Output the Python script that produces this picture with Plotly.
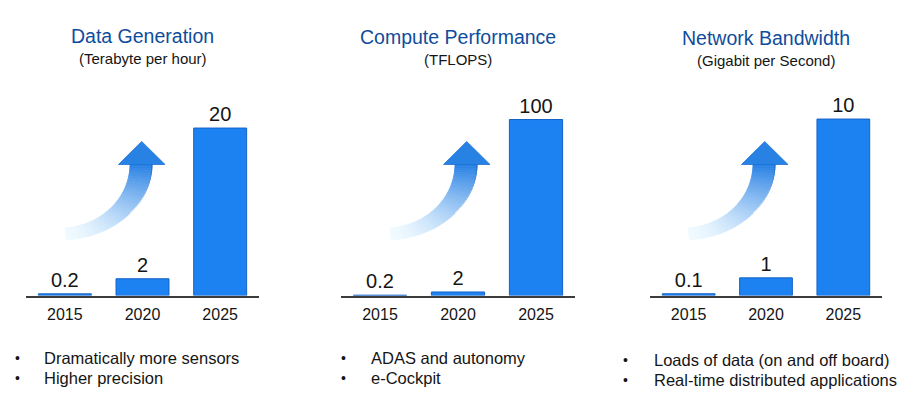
import math
import plotly.graph_objects as go

W, H = 901, 395

# ---------------- data ----------------
years = ["2015", "2020", "2025"]
data_generation = [0.2, 2, 20]        # Terabyte per hour
compute_performance = [0.2, 2, 100]   # TFLOPS
network_bandwidth = [0.1, 1, 10]      # Gigabit per second

titles = ["Data Generation", "Compute Performance", "Network Bandwidth"]
subtitles = ["(Terabyte per hour)", "(TFLOPS)", "(Gigabit per Second)"]
bullets = [
    ["Dramatically more sensors", "Higher precision"],
    ["ADAS and autonomy", "e-Cockpit"],
    ["Loads of data (on and off board)", "Real-time distributed applications"],
]
series = [data_generation, compute_performance, network_bandwidth]
y_tops = [23.35, 111.1, 11.08]

# ---------------- layout helpers (pixel -> paper) ----------------
def px(x):
    return x / W

def py(y):
    return 1 - y / H

axis_px = [(26, 259), (341, 575), (650, 882)]
arrow_dx = [0, 325, 623]
base_px, top_px = 295.5, 100
title_y = [(36, 58), (36.5, 59), (38, 60.5)]
bullet_x = [(17, 42), (343, 369), (625, 652)]
bullet_y = [(358, 378), (358, 378), (360, 380)]

BLUE = "#1c82f2"
EDGE = "#1462c6"
TITLE_BLUE = "#0f4d9c"
FONT = "Arial, Liberation Sans, sans-serif"

fig = go.Figure()
layout = dict(
    width=W, height=H,
    margin=dict(l=0, r=0, t=0, b=0),
    paper_bgcolor="white", plot_bgcolor="white",
    showlegend=False, bargap=0.318,
    font=dict(family=FONT, color="#151515"),
)

annotations = []
shapes = []

for i in range(3):
    suffix = "" if i == 0 else str(i + 1)
    xa, ya = "x" + suffix, "y" + suffix
    vals = series[i]
    fig.add_trace(go.Bar(
        x=years, y=vals, xaxis=xa, yaxis=ya,
        marker=dict(color=BLUE, line=dict(color=EDGE, width=1)),
        text=[f"{v:g}" for v in vals], textposition="outside",
        textfont=dict(size=20, color="#151515", family=FONT),
        cliponaxis=False, hoverinfo="skip",
    ))
    x0, x1 = axis_px[i]
    layout["xaxis" + suffix] = dict(
        domain=[px(x0), px(x1)], anchor=ya, type="category",
        showline=True, linecolor="#3c3c3c", linewidth=2,
        ticks="outside", ticklen=3, tickcolor="rgba(0,0,0,0)",
        tickfont=dict(size=16, color="#151515", family=FONT),
        showgrid=False, zeroline=False, fixedrange=True,
    )
    layout["yaxis" + suffix] = dict(
        domain=[py(base_px), py(top_px)], anchor=xa,
        range=[0, y_tops[i]], visible=False, fixedrange=True,
    )

    cx = (x0 + x1) / 2
    annotations.append(dict(
        x=px(cx), y=py(title_y[i][0]), xref="paper", yref="paper",
        text=titles[i], showarrow=False, xanchor="center", yanchor="middle",
        font=dict(size=19.5, color=TITLE_BLUE, family=FONT)))
    annotations.append(dict(
        x=px(cx), y=py(title_y[i][1]), xref="paper", yref="paper",
        text=subtitles[i], showarrow=False, xanchor="center", yanchor="middle",
        font=dict(size=15, color="#151515", family=FONT)))

    bx, tx = bullet_x[i]
    for j, line in enumerate(bullets[i]):
        yy = bullet_y[i][j]
        annotations.append(dict(
            x=px(bx), y=py(yy), xref="paper", yref="paper", text="•",
            showarrow=False, xanchor="center", yanchor="middle",
            font=dict(size=14, color="#151515", family=FONT)))
        annotations.append(dict(
            x=px(tx), y=py(yy), xref="paper", yref="paper", text=line,
            showarrow=False, xanchor="left", yanchor="middle",
            font=dict(size=16.5, color="#151515", family=FONT)))

    # ---------- decorative curved gradient arrow ----------
    dx = arrow_dx[i]
    cxp, cyp = 60 + dx, 164
    r_out = (92, 76)
    r_in = (70, 64)
    N = 48
    th_max = math.radians(86)
    top_c = (36, 126, 228)
    bot_c = (240, 250, 255)

    def pt(r, th):
        return (cxp + r[0] * math.cos(th), cyp + r[1] * math.sin(th))

    for k in range(N):
        t0 = th_max * k / N
        t1 = th_max * (k + 1) / N
        t = (k + 0.5) / N
        a = (1 - t) ** 1.6
        col = tuple(int(round(top_c[c] * a + bot_c[c] * (1 - a))) for c in range(3))
        p = [pt(r_in, t0), pt(r_out, t0), pt(r_out, t1), pt(r_in, t1)]
        path = "M " + " L ".join(f"{px(a_):.5f},{py(b_):.5f}" for a_, b_ in p) + " Z"
        c = f"rgb{col}"
        shapes.append(dict(type="path", path=path, xref="paper", yref="paper",
                           fillcolor=c, line=dict(color=c, width=0.8), layer="below"))
    # darker outer edge on the upper part of the shaft
    M = 14
    for k in range(M):
        t0 = math.radians(40) * k / M
        t1 = math.radians(40) * (k + 1) / M
        a = 1 - k / M
        base = (22, 100, 200)
        col = tuple(int(round(base[c] * a + 255 * (1 - a))) for c in range(3))
        (ax_, ay_), (bx_, by_) = pt(r_out, t0), pt(r_out, t1)
        shapes.append(dict(type="line", x0=px(ax_), y0=py(ay_), x1=px(bx_), y1=py(by_),
                           xref="paper", yref="paper",
                           line=dict(color=f"rgb{col}", width=1), layer="below"))
    # arrow head
    head = [(118.5 + dx, 164.5), (141.7 + dx, 141.5), (165 + dx, 164.5)]
    path = "M " + " L ".join(f"{px(a_):.5f},{py(b_):.5f}" for a_, b_ in head) + " Z"
    shapes.append(dict(type="path", path=path, xref="paper", yref="paper",
                       fillcolor="rgb(40,130,228)", line=dict(color="rgb(30,114,212)", width=0.8),
                       layer="below"))

layout["annotations"] = annotations
layout["shapes"] = shapes
fig.update_layout(**layout)
fig.write_html(
    "out.html",
    config={"displayModeBar": False},
    post_script="document.body.style.margin='0';document.body.style.overflow='hidden';",
)
